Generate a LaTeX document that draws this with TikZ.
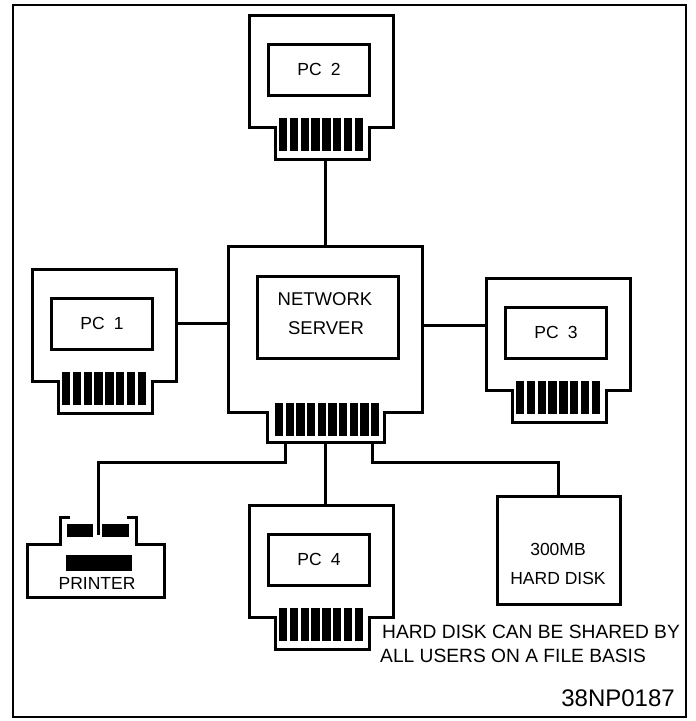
\documentclass[tikz,border=0pt]{standalone}
\usepackage{fontspec}
\setmainfont{Liberation Sans}
\usetikzlibrary{calc,positioning}
\tikzset{
  wire/.style={line width=3pt,black},
  outline/.style={line width=3pt,black,line join=miter},
  screenbox/.style={draw,line width=3pt,fill=white,inner sep=0pt,minimum width=101pt,minimum height=51pt,font=\fontsize{17.5}{20}\selectfont},
  anchorbox/.style={inner sep=0pt,outer sep=0pt},
  label/.style={font=\fontsize{17.5}{20}\selectfont,inner sep=0pt},
}

\begin{document}
\begin{tikzpicture}[x=1pt,y=-1pt]
  \useasboundingbox (0,0) rectangle (696,721);
  \fill[white] (0,0) rectangle (696,721);
  % Frame
  \draw[line width=2.6pt] (13,5) rectangle (686,717);
  % PC units
  \foreach \n/\x/\y in {1/32/269, 2/249/15, 3/486/278, 4/249/505} {
    \begin{scope}[shift={(\x,\y)}]
      \draw[outline] (26,144) -- (26,112) -- (0,112) -- (0,0) -- (144,0) -- (144,112) -- (120,112) -- (120,144) -- cycle;
      \node[anchorbox,minimum width=144pt,minimum height=112pt] (body\n) at (72,56) {};
      \node[anchorbox,minimum width=94pt,minimum height=32pt] (neck\n) at (73,128) {};
      \node[screenbox] (screen\n) at (70,54.5) {PC\hspace{0.25em} \n};
      \foreach \b in {0,...,7} {
        \fill (30+\b*10.8,103) rectangle +(8.3,33);
      }
    \end{scope}
  }
  % Server
  \draw[outline] (267,442) -- (267,412) -- (228,412) -- (228,246) -- (422,246) -- (422,412) -- (384,412) -- (384,442) -- cycle;
  \node[anchorbox,minimum width=194pt,minimum height=166pt] (serverbody) at (325,329) {};
  \node[anchorbox,minimum width=117pt,minimum height=30pt] (serverneck) at (325.5,427) {};
  \node[draw,line width=3pt,inner sep=0pt,minimum width=141pt,minimum height=82pt] (serverscreen) at (328,317) {};
  \node[label,font=\fontsize{18.5}{20}\selectfont] (servertext1) at (325,299) {NETWORK};
  \node[label,font=\fontsize{18.5}{20}\selectfont] (servertext2) at (326,328) {SERVER};
  \foreach \b in {0,...,9} {
    \fill (275+\b*10.65,403) rectangle +(8.3,33);
  }
  % Printer
  \draw[outline] (70,517) -- (60,517) -- (60,544) -- (27,544) -- (27,597) -- (164,597) -- (164,544) -- (136,544) -- (136,517) -- (127,517);
  \fill (67,524) rectangle (93,537);
  \fill (102,524) rectangle (129,537);
  \fill (66,555) rectangle (132,571);
  \node[label] (printer) at (97,583) {PRINTER};
  \coordinate (printerin) at (98,535);
  % Hard disk
  \node[draw,line width=3pt,inner sep=0pt,minimum width=123pt,minimum height=108pt] (disk) at (558.5,550) {};
  \node[label] (disktext1) at (558,549) {300MB};
  \node[label] (disktext2) at (558,578) {HARD DISK};
  % Connectors
  \coordinate (srvwest) at (228,323);
  \coordinate (srveast) at (422,325);
  \draw[wire] (serverbody.north) -- (serverbody.north |- neck2.south);
  \draw[wire] (srvwest) -- (srvwest -| body1.east);
  \draw[wire] (srveast) -- (srveast -| body3.west);
  \draw[wire] (serverneck.south) -- (serverneck.south |- body4.north);
  \coordinate (tapleft) at (285,442);
  \coordinate (tapright) at (372,442);
  \draw[wire,line join=miter] (tapleft) |- (98,462) -- (printerin);
  \draw[wire,line join=miter] (tapright) |- (disk.north |- 0,462) -- (disk.north);
  % Notes
  \node[label,font=\fontsize{19.2}{22}\selectfont,anchor=west] (note1) at (382,632) {HARD DISK CAN BE SHARED BY};
  \node[label,font=\fontsize{19.2}{22}\selectfont,anchor=west] (note2) at (380,656) {ALL USERS ON A FILE BASIS};
  \node[font=\fontsize{24}{26}\selectfont,inner sep=0pt,anchor=east] (refcode) at (675,698) {38NP0187};
\end{tikzpicture}
\end{document}
